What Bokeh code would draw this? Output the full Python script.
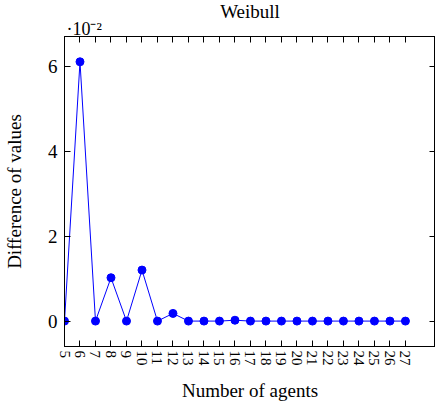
import numpy as np
from bokeh.plotting import figure
from bokeh.models import (LinearAxis, FixedTicker, CustomJSTickFormatter, Title,
                          Range1d, ColumnDataSource)
from bokeh.embed import file_html
from bokeh.resources import INLINE

# ---- data ----
agents = list(range(5, 28))
diff_values = [0.0, 0.061, 0.0, 0.0102, 0.0, 0.012, 0.0, 0.0018, 0.0, 0.0, 0.0,
               0.0002, 0.0, 0.0, 0.0, 0.0, 0.0, 0.0, 0.0, 0.0, 0.0, 0.0, 0.0]
y_ticks = [0.0, 0.02, 0.04, 0.06]
title_text = "Weibull"
scale_text = "\u00b710\u207b\u00b2"
x_label = "Number of agents"
y_label = "Difference of values"

FONT = "Liberation Serif"
BLUE = "#0000ff"

src = ColumnDataSource(dict(x=agents, y=diff_values))

p = figure(width=435, height=406, output_backend="svg", toolbar_location=None,
           x_range=Range1d(5, 28.94), y_range=Range1d(-0.00598, 0.06695),
           x_axis_location=None, y_axis_location=None,
           min_border_left=64, min_border_right=0, min_border_top=0,
           min_border_bottom=60)
p.grid.visible = False
p.outline_line_color = "black"
p.outline_line_width = 1
p.background_fill_color = "white"
p.border_fill_color = "white"

p.line("x", "y", source=src, line_color=BLUE, line_width=1)
p.scatter("x", "y", source=src, size=8, fill_color=BLUE, line_color=BLUE)

empty = CustomJSTickFormatter(code="return ''")
xt = FixedTicker(ticks=agents)
yt = FixedTicker(ticks=y_ticks)

def style(ax):
    ax.axis_line_color = "black"
    ax.major_tick_line_color = "black"
    ax.major_tick_in = 6
    ax.major_tick_out = 0
    ax.minor_tick_line_color = None
    ax.major_label_text_font = FONT
    ax.major_label_text_color = "black"
    ax.axis_label_text_color = "black"

bottom = LinearAxis(ticker=xt, axis_label=x_label)
style(bottom)
bottom.major_label_orientation = "vertical"
bottom.major_label_text_font_size = "15px"
bottom.major_label_standoff = 4
bottom.axis_label_text_font = FONT
bottom.axis_label_text_font_size = "19px"
bottom.axis_label_text_font_style = "normal"
bottom.axis_label_standoff = 11
p.add_layout(bottom, "below")

left = LinearAxis(ticker=yt, axis_label=y_label,
                  formatter=CustomJSTickFormatter(code="return (tick*100).toFixed(0)"))
style(left)
left.major_label_text_font_size = "19px"
left.major_label_standoff = 7
left.axis_label_text_font = FONT
left.axis_label_text_font_size = "19px"
left.axis_label_text_font_style = "normal"
left.axis_label_standoff = 20
p.add_layout(left, "left")

top = LinearAxis(ticker=xt, formatter=empty)
style(top)
top.major_label_standoff = 0
top.major_label_text_font_size = "1px"
p.add_layout(top, "above")

right = LinearAxis(ticker=yt, formatter=empty)
style(right)
right.major_label_standoff = 0
right.major_label_text_font_size = "1px"
p.add_layout(right, "right")

p.add_layout(Title(text=scale_text, align="left", offset=2, standoff=-5,
                   text_font=FONT, text_font_size="18px",
                   text_font_style="normal", text_color="black"), "above")
p.add_layout(Title(text=title_text, align="center", standoff=-4,
                   text_font=FONT, text_font_size="19px",
                   text_font_style="normal", text_color="black"), "above")

open("out.html", "w").write(file_html(p, INLINE))
